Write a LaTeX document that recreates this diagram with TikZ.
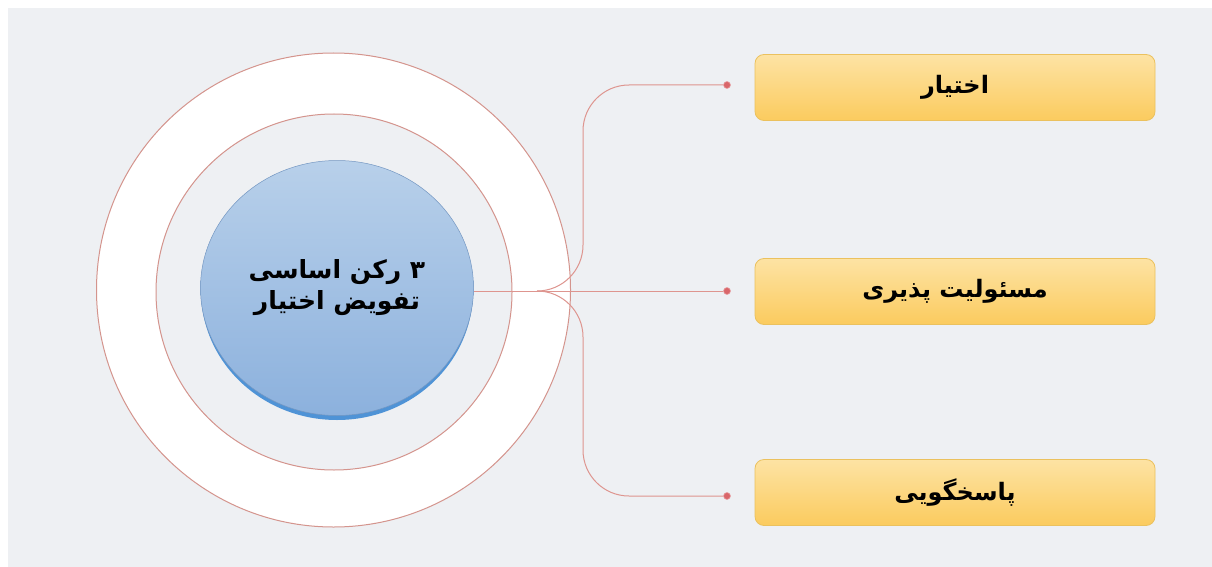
\documentclass[tikz,border=0pt]{standalone}
\usepackage{fontspec}
\usetikzlibrary{shapes.geometric}
\TeXXeTstate=1
\newfontfamily\arabicfont[Script=Arabic]{DejaVu Sans}
\definecolor{bg}{HTML}{EEF0F3}
\definecolor{ringline}{HTML}{D4948D}
\definecolor{conn}{HTML}{DE958F}
\definecolor{dotc}{HTML}{D9666A}
\definecolor{bluetop}{HTML}{B8D0EA}
\definecolor{bluebot}{HTML}{8CB1DD}
\definecolor{blueedge}{HTML}{7497C2}
\definecolor{blueshadow}{HTML}{4F93D6}
\definecolor{boxtop}{HTML}{FDE3A4}
\definecolor{boxbot}{HTML}{FBCB5E}
\definecolor{boxedge}{HTML}{EBC15E}
\tikzset{
  labelbox/.style={draw=boxedge, line width=0.8pt, rounded corners=9pt,
    top color=boxtop, bottom color=boxbot, minimum width=400pt,
    minimum height=66pt, inner sep=0pt,
    font=\arabicfont\bfseries\fontsize{24}{28}\selectfont},
  enddot/.style={circle, fill=dotc, draw=dotc!60, line width=0.6pt,
    minimum size=7pt, inner sep=0pt},
  connline/.style={draw=conn, line width=1pt},
}
\begin{document}
\begin{tikzpicture}[x=1pt,y=-1pt]
\useasboundingbox (0,0) rectangle (1212,567);
\fill[white] (0,0) rectangle (1212,567);
\fill[bg] (8,8) rectangle (1212,567);
% rings
\fill[white, draw=ringline, line width=1pt] (333.5,290) circle (237);
\fill[bg, draw=ringline, line width=1pt] (334,292) circle (178);
% centre circle
\fill[blueshadow] (337,291) ellipse (136 and 129);
\node[ellipse, top color=bluetop, bottom color=bluebot, draw=blueedge,
  line width=0.5pt, minimum width=273pt, minimum height=255pt, inner sep=0pt,
  align=center, font=\arabicfont\bfseries\fontsize{25}{33}\selectfont]
  (c) at (337,288) {\beginR ۳ رکن اساسی\endR\\[-2pt]\beginR تفویض اختیار\endR};
% end dots
\node[enddot] (d1) at (727,85) {};
\node[enddot] (d2) at (727,291) {};
\node[enddot] (d3) at (727,496) {};
% boxes
\node[labelbox] (b1) at (955,87.5) {\beginR اختیار\endR};
\node[labelbox] (b2) at (955,291.5) {\beginR مسئولیت پذیری\endR};
\node[labelbox] (b3) at (955,492.5) {\beginR پاسخگویی\endR};
% connectors
\coordinate (br) at (537,291);
\path[connline] (c.east |- d2) -- (d2);
\path[connline, rounded corners=46pt] (br) -- (583,291) -- (583,85) -- (d1);
\path[connline, rounded corners=46pt] (br) -- (583,291) -- (583,496) -- (d3);
\end{tikzpicture}
\end{document}
